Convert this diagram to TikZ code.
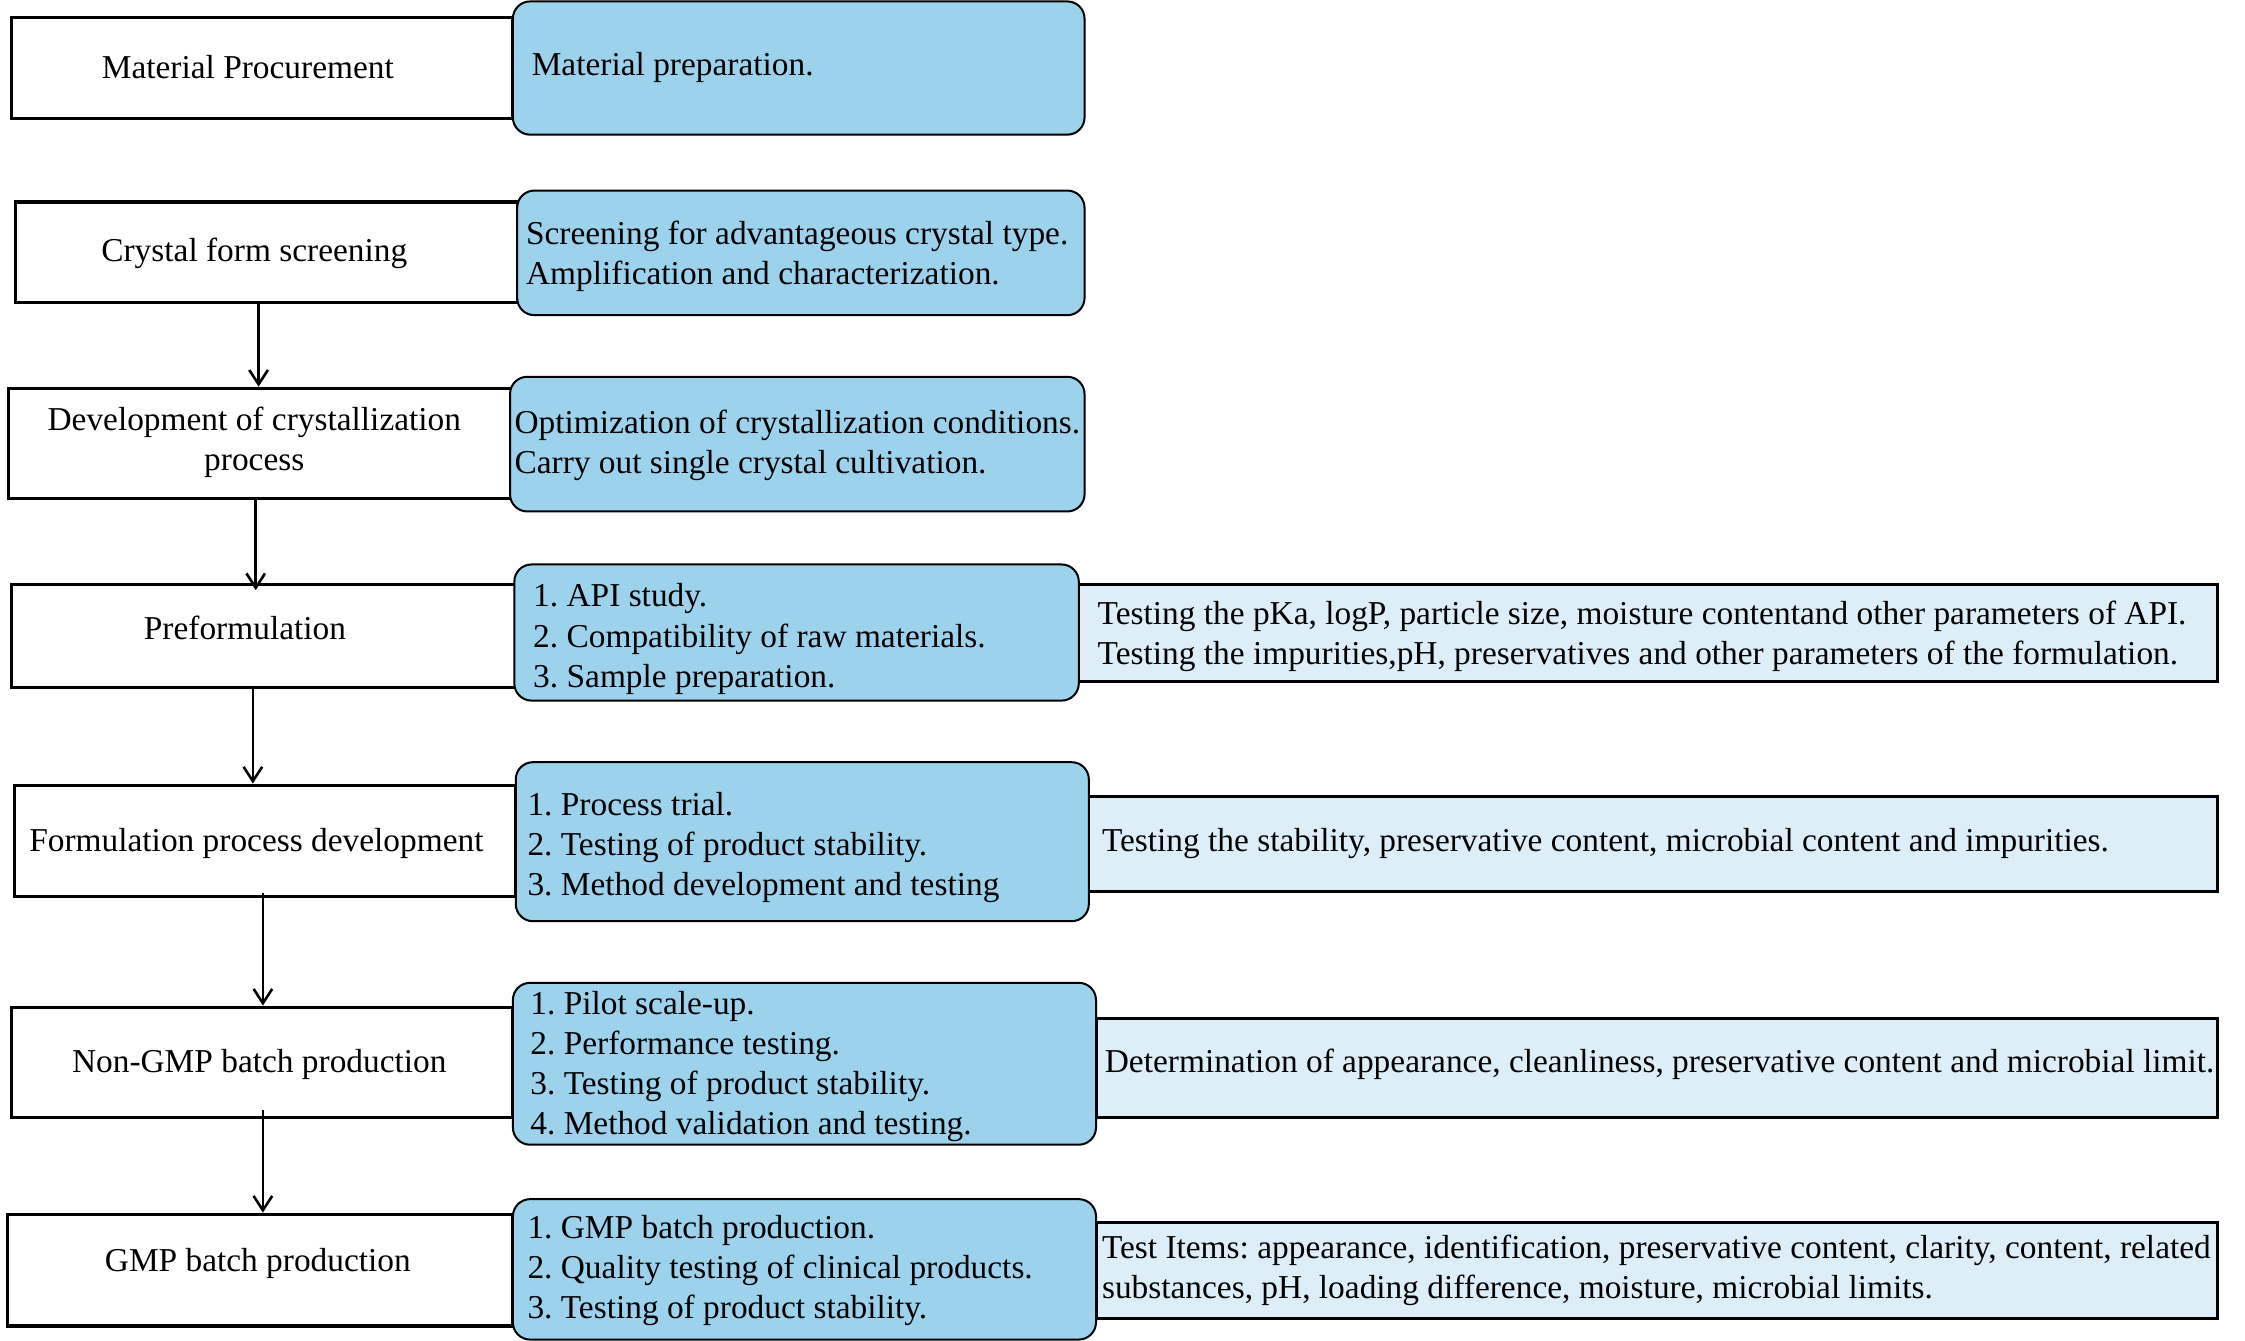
\documentclass[tikz,border=0pt]{standalone}
\usepackage{fontspec}
\setmainfont{Liberation Serif}
\usetikzlibrary{arrows.meta}
\definecolor{bfill}{RGB}{157,210,236}
\definecolor{lfill}{RGB}{221,238,248}
\frenchspacing
\tikzset{
  wbox/.style={draw=black, line width=2.2pt, fill=white, inner sep=0pt},
  bbox/.style={draw=black, line width=1.4pt, fill=bfill, rounded corners=12pt, inner sep=0pt},
  lbox/.style={draw=black, line width=2.1pt, fill=lfill, inner sep=0pt},
  txt/.style={font=\fontsize{23.3}{28}\selectfont\frenchspacing, inner sep=0pt, align=left},
  ctxt/.style={font=\fontsize{23.3}{28}\selectfont\frenchspacing, inner sep=0pt, align=center},
  arr/.style={line width=1.8pt, -{Straight Barb[length=10pt,width=13pt,line width=1.8pt]}}
}
\begin{document}
\begin{tikzpicture}[x=1pt,y=-1pt]
\useasboundingbox (0,0) rectangle (1567,936);
% white boxes
\node[wbox, minimum width=350pt, minimum height=71pt] (w1) at (183,47.5) {};
\node[wbox, minimum width=350pt, minimum height=70pt] (w2) at (186,176) {};
\node[wbox, minimum width=351pt, minimum height=77pt] (w3) at (181.5,309.5) {};
\node[wbox, minimum width=352pt, minimum height=72pt] (w4) at (184,444) {};
\node[wbox, minimum width=350pt, minimum height=78pt] (w5) at (185,587) {};
\node[wbox, minimum width=350pt, minimum height=77pt] (w6) at (183,741.5) {};
\node[wbox, minimum width=352pt, minimum height=78pt] (w7) at (181.5,886.5) {};
% light boxes
\node[lbox, minimum width=795pt, minimum height=68pt] (l4) at (1150.5,442) {};
\node[lbox, minimum width=788pt, minimum height=66pt] (l5) at (1154,589) {};
\node[lbox, minimum width=783pt, minimum height=69pt] (l6) at (1156.5,745.5) {};
\node[lbox, minimum width=783pt, minimum height=67pt] (l7) at (1156.5,886.5) {};
% blue boxes
\node[bbox, minimum width=399pt, minimum height=93pt] (b1) at (557.5,47.5) {};
\node[bbox, minimum width=396pt, minimum height=87pt] (b2) at (559,176.5) {};
\node[bbox, minimum width=401pt, minimum height=94pt] (b3) at (556.5,310) {};
\node[bbox, minimum width=394pt, minimum height=95pt] (b4) at (556,441.5) {};
\node[bbox, minimum width=400pt, minimum height=111pt] (b5) at (560,587.5) {};
\node[bbox, minimum width=407pt, minimum height=113pt] (b6) at (561.5,742.5) {};
\node[bbox, minimum width=407pt, minimum height=98pt] (b7) at (561.5,886) {};
% white box texts
\node[ctxt] (t1) at (173,46.5) {Material Procurement};
\node[ctxt] (t2) at (177.5,177) {Crystal form screening};
\node[ctxt] (t3) at (177.5,309) {Development of crystallization\\process};
\node[ctxt] (t4) at (171,438.5) {Preformulation};
\node[ctxt] (t5) at (179,588.5) {Formulation process development};
\node[ctxt] (t6) at (181,743) {Non-GMP batch production};
\node[ctxt] (t7) at (180,882) {GMP batch production};
% blue box texts
\node[txt, anchor=west] (u1) at (371,47) {Material preparation.};
\node[txt, anchor=west] (u2) at (367,179) {Screening for advantageous crystal type.\\Amplification and characterization.};
\node[txt, anchor=west] (u3) at (359,311) {Optimization of crystallization conditions.\\Carry out single crystal cultivation.};
\node[txt, anchor=west] (u4) at (372,446) {1. API study.\\2. Compatibility of raw materials.\\3. Sample preparation.};
\node[txt, anchor=west] (u5) at (368,591.5) {1. Process trial.\\2. Testing of product stability.\\3. Method development and testing};
\node[txt, anchor=west] (u6) at (370,744.5) {1. Pilot scale-up.\\2. Performance testing.\\3. Testing of product stability.\\4. Method validation and testing.};
\node[txt, anchor=west] (u7) at (368,887) {1. GMP batch production.\\2. Quality testing of clinical products.\\3. Testing of product stability.};
% light box texts
\node[txt, anchor=west] (v4) at (766,444) {Testing the pKa, logP, particle size, moisture contentand other parameters of API.\\Testing the impurities,pH, preservatives and other parameters of the formulation.};
\node[txt, anchor=west] (v5) at (769,589) {Testing the stability, preservative content, microbial content and impurities.};
\node[txt, anchor=west] (v6) at (771,743) {Determination of appearance, cleanliness, preservative content and microbial limit.};
\node[txt, anchor=west] (v7) at (769,886.5) {Test Items: appearance, identification, preservative content, clarity, content, related\\substances, pH, loading difference, moisture, microbial limits.};
% arrows
\draw[arr] ([xshift=-5.5pt]w2.south) -- ([xshift=-1pt]w3.north);
\draw[arr] ([xshift=-3pt]w3.south) -- ([xshift=-5.5pt,yshift=-5pt]w4.north);
\draw[arr] ([xshift=-7.5pt]w4.south) -- ([xshift=-8.5pt]w5.north);
\draw[arr] ([xshift=-1.5pt,yshift=4pt]w5.south) -- ([xshift=0.5pt]w6.north);
\draw[arr] ([xshift=0.5pt,yshift=6pt]w6.south) -- ([xshift=2pt]w7.north);
\end{tikzpicture}
\end{document}
